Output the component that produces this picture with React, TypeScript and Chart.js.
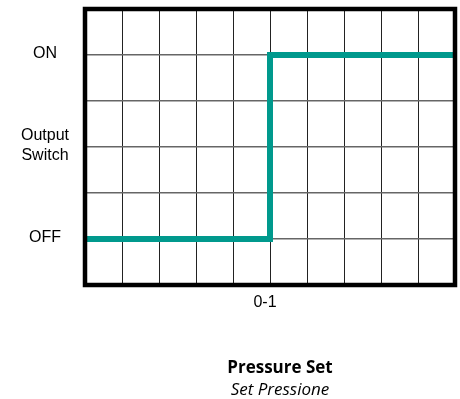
import React, { useEffect, useRef } from "react";
import { Chart, registerables } from "chart.js";

Chart.register(...registerables);

// Data
const switchX = [0, 5, 5, 10];
const switchY = [1, 1, 5, 5];
const yTickValues = [0, 1, 2, 3, 4, 5, 6];
const yTickLabels: (string | string[])[] = ["", "OFF", "", ["Output", "Switch"], "", "ON", ""];
const xTickValues = [0, 1, 2, 3, 4, 5, 6, 7, 8, 9, 10];
const xTickLabels = ["", "", "", "", "", "0-1", "", "", "", "", ""];
const titleMain = "Pressure Set";
const titleSub = "Set Pressione";

const TEAL = "#00998d";

const framePlugin = {
  id: "frame",
  afterDatasetsDraw(chart: any) {
    const { ctx, chartArea } = chart;
    ctx.save();
    ctx.strokeStyle = "#000";
    ctx.lineWidth = 4.5;
    ctx.strokeRect(
      chartArea.left,
      chartArea.top,
      chartArea.right - chartArea.left,
      chartArea.bottom - chartArea.top
    );
    ctx.restore();
  },
  afterDraw(chart: any) {
    const { ctx, chartArea } = chart;
    const cx = (chartArea.left + chartArea.right) / 2 + 10;
    ctx.save();
    ctx.fillStyle = "#000";
    ctx.textAlign = "center";
    ctx.textBaseline = "alphabetic";
    ctx.font = "bold 17px 'Open Sans'";
    ctx.fillText(titleMain, cx, chartArea.bottom + 88);
    ctx.font = "italic 17px 'Open Sans'";
    ctx.fillText(titleSub, cx, chartArea.bottom + 110);
    ctx.restore();
  },
};

const zeroPad = (scale: any) => {
  scale.paddingTop = 0;
  scale.paddingBottom = 0;
  scale.paddingLeft = 0;
  scale.paddingRight = 0;
};

export default function App() {
  const ref = useRef<HTMLCanvasElement | null>(null);

  useEffect(() => {
    if (!ref.current) return;
    const chart = new Chart(ref.current, {
      type: "line",
      data: {
        datasets: [
          {
            data: switchX.map((x, i) => ({ x, y: switchY[i] })),
            borderColor: TEAL,
            borderWidth: 6,
            pointRadius: 0,
            borderJoinStyle: "miter",
            borderCapStyle: "butt",
            fill: false,
            tension: 0,
          },
        ],
      },
      options: {
        animation: false,
        responsive: true,
        maintainAspectRatio: false,
        layout: { padding: { left: 0, right: 5, top: 9, bottom: 0 } },
        plugins: {
          legend: { display: false },
          tooltip: { enabled: false },
          title: { display: false },
        },
        scales: {
          x: {
            type: "linear",
            min: 0,
            max: 10,
            afterBuildTicks: (scale: any) => {
              scale.ticks = xTickValues.map((v) => ({ value: v }));
            },
            afterFit: (scale: any) => {
              scale.height = 114;
              zeroPad(scale);
            },
            ticks: {
              autoSkip: false,
              maxRotation: 0,
              padding: 8,
              labelOffset: -5,
              color: "#000",
              font: { family: "'Liberation Sans', Arial, sans-serif", size: 16 },
              callback: (v: any) => xTickLabels[xTickValues.indexOf(Number(v))] ?? "",
            },
            grid: { color: "#222", lineWidth: 1, drawTicks: false },
            border: { display: false },
          },
          y: {
            type: "linear",
            min: 0,
            max: 6,
            afterBuildTicks: (scale: any) => {
              scale.ticks = yTickValues.map((v) => ({ value: v }));
            },
            afterFit: (scale: any) => {
              scale.width = 85;
              zeroPad(scale);
            },
            ticks: {
              autoSkip: false,
              crossAlign: "center",
              padding: 16,
              labelOffset: -1,
              color: "#000",
              font: { family: "'Liberation Sans', Arial, sans-serif", size: 16, lineHeight: 1.25 },
              callback: (v: any) => yTickLabels[yTickValues.indexOf(Number(v))] ?? "",
            },
            grid: { color: "#666", lineWidth: 1.5, drawTicks: false },
            border: { display: false },
          },
        },
      },
      plugins: [framePlugin],
    });
    return () => chart.destroy();
  }, []);

  return (
    <div style={{ position: "fixed", left: 0, top: 0, width: 460, height: 399, background: "#fff" }}>
      <canvas ref={ref} />
    </div>
  );
}
